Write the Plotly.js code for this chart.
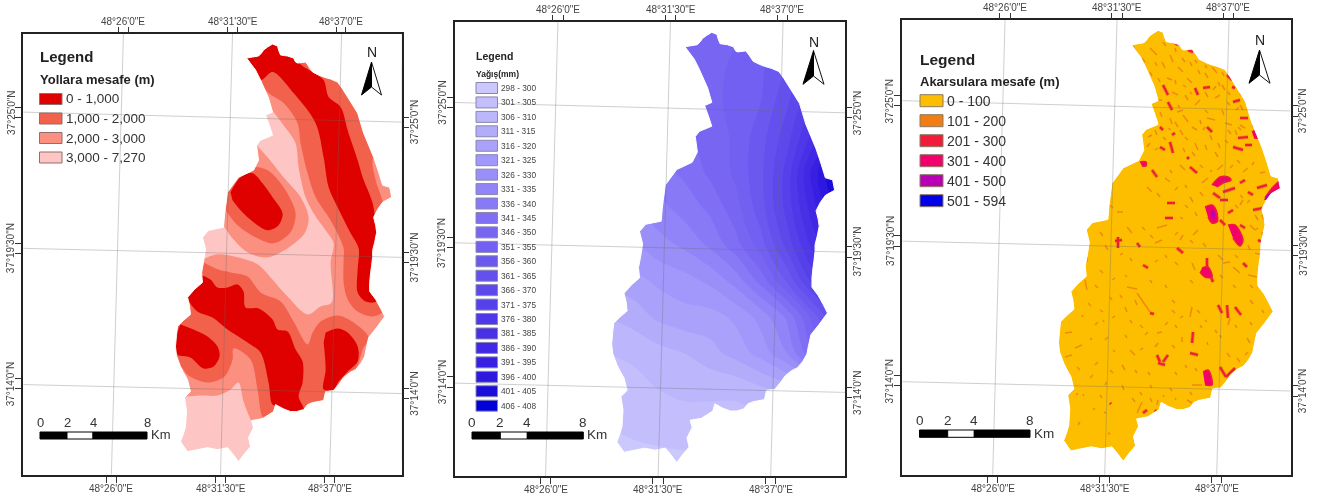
<!DOCTYPE html>
<html><head><meta charset="utf-8">
<script src="https://cdn.plot.ly/plotly-3.0.1.min.js"></script>
<style>html,body{margin:0;padding:0;background:#fff}#map{width:1341px;height:499px;filter:blur(0.4px)}</style>
</head><body><div id="map"></div>
<script>
// ---------- shared basin geometry, in map units ----------
const basinOutline=[[246,58],[252,57],[258,56],[261,53],[263,50],[267,47],[272,44],[277,46],[278,50],[280,55],[287,56],[293,58],[295,62],[297,63],[305,62],[308,66],[312,72],[318,75],[323,77],[330,79],[337,82],[342,89],[347,97],[352,105],[357,113],[360,123],[363,133],[368,145],[373,157],[376,166],[378,172],[382,185],[389,187],[391,197],[382,202],[377,209],[373,217],[375,225],[376,232],[374,242],[372,250],[372,256],[371,265],[370,272],[369,282],[369,291],[375,299],[380,308],[384,316],[376,327],[368,337],[366,346],[364,356],[360,363],[355,369],[349,372],[343,377],[338,384],[333,390],[325,391],[323,400],[312,402],[307,404],[303,409],[296,411],[290,411],[282,408],[275,404],[273,411],[262,418],[251,420],[253,427],[248,437],[250,446],[244,453],[238,461],[232,453],[227,447],[217,449],[207,447],[197,449],[187,451],[180,441],[183,433],[185,426],[186,410],[184,397],[190,391],[187,379],[183,372],[180,366],[176,355],[175,346],[176,335],[177,326],[183,320],[190,314],[189,305],[187,297],[194,289],[202,282],[201,272],[203,262],[205,249],[202,237],[208,230],[223,227],[224,215],[225,207],[227,192],[238,177],[253,170],[258,160],[256,145],[260,140],[272,135],[268,123],[265,115],[272,112],[268,98],[260,80],[255,70]];
const gratV=[[[123,34],[111,474]],[[232,34],[220,474]],[[341,34],[329,474]]];
const gratH=[[[23,112],[401,122]],[[23,248],[401,257]],[[23,384],[401,393]]];
const tickTop=[118,128,227,237,336,345];
const tickBottom=[106,116,215,225,324,334];
const tickLeft=[107,117,243,253,378,388];
const tickRight=[117,127,252,262,388,398];
const lonLabels=["48°26'0\"E","48°31'30\"E","48°37'0\"E"];
const lonTop=[123,232,340];
const lonBottom=[111,220,329];
const latLabels=["37°25'0\"N","37°19'30\"N","37°14'0\"N"];
const latLeft=[112,248,383];
const latRight=[122,257,393];
const scaleLabels=["0","2","4","8"];

// ---------- panel 1: distance to roads ----------
const roadClasses=["0 - 1,000","1,000 - 2,000","2,000 - 3,000","3,000 - 7,270"];
const roadColors=["#df0000","#f2614c","#fb8f80","#fdc6c4"];
const road2000=[
 [[240,70],[272,111],[283,125],[295,143],[298,167],[305,197],[313,213],[325,230],[333,243],[330,262],[331,302],[320,306],[307,314],[287,296],[270,277],[257,264],[237,257],[217,254],[200,259],[160,259],[160,396],[185,396],[200,395],[217,395],[230,389],[238,382],[243,401],[251,421],[267,449],[420,449],[420,40],[240,40]],
 [[256,145],[267,157],[283,177],[300,197],[308,217],[304,233],[287,248],[267,257],[247,252],[232,238],[220,222],[207,213],[217,167],[247,133]]
];
const road1000=[
 [[260,82],[268,93],[283,103],[297,123],[300,143],[307,173],[315,197],[330,220],[343,248],[343,259],[343,282],[347,299],[357,311],[372,316],[382,312],[395,300],[387,233],[382,201],[375,180],[373,157],[400,150],[400,67],[320,67],[310,71],[300,50],[267,50]],
 [[203,262],[217,269],[230,272],[247,276],[260,292],[280,301],[293,321],[307,344],[312,332],[320,321],[337,315],[353,322],[368,337],[362,349],[358,362],[355,369],[333,392],[327,416],[300,422],[275,412],[263,417],[257,389],[250,359],[233,348],[232,359],[224,376],[207,382],[188,375],[180,366],[160,362],[160,282],[202,274]],
 [[220,200],[233,180],[253,167],[267,170],[283,187],[295,213],[290,232],[273,243],[255,237],[237,225],[225,210]]
];
const road0=[
 [[240,57],[260,80],[272,72],[293,93],[315,123],[323,157],[328,187],[337,207],[350,233],[358,248],[357,269],[357,292],[365,301],[376,301],[385,282],[385,248],[377,233],[372,203],[362,177],[357,160],[347,130],[340,107],[328,97],[323,80],[312,72],[298,62],[293,33],[267,33],[240,40]],
 [[230,192],[240,177],[252,173],[262,183],[272,197],[282,213],[278,225],[267,230],[253,222],[240,210],[232,200]],
 [[202,275],[210,279],[217,287],[227,287],[237,284],[243,291],[245,307],[258,308],[272,319],[277,329],[287,331],[295,349],[302,361],[302,382],[298,396],[303,409],[290,412],[280,406],[272,404],[268,382],[260,352],[247,342],[227,329],[212,317],[197,311],[188,299],[189,289],[200,284]],
 [[180,324],[193,329],[207,336],[217,346],[219,356],[213,366],[203,368],[190,357],[177,354],[174,344],[177,331]],
 [[325,332],[337,328],[347,332],[357,346],[357,361],[347,371],[338,381],[333,389],[323,389],[325,369],[323,342]]
];

// ---------- panel 2: rainfall ----------
const rainClasses=["298 - 300","301 - 305","306 - 310","311 - 315","316 - 320","321 - 325","326 - 330","331 - 335","336 - 340","341 - 345","346 - 350","351 - 355","356 - 360","361 - 365","366 - 370","371 - 375","376 - 380","381 - 385","386 - 390","391 - 395","396 - 400","401 - 405","406 - 408"];
const rainColors=['#cbc8fd','#c4bffc','#bcb6fc','#b3acfb','#aaa1fb','#a297fa','#9a8ef9','#9084f8','#8879f7','#806ff5','#7866f3','#7160f1','#6a58ef','#6450ee','#5d48ec','#5640ea','#4f38e9','#4830e7','#4028e5','#3820e3','#2e18df','#1a0cdb','#0000d8'];
const rainX=[170,195,220,245,270,295,320,345,370,395];
const rainY=[40,75,110,145,180,215,250,285,320,355,390,425,465];
const rainZ=[
 [345,345,345,346,347,349,352,356,362,368],
 [345,345,346,347,348,351,354,360,368,378],
 [342,344,346,348,349,351,355,364,375,388],
 [338,340,342,344,347,351,358,368,382,396],
 [332,335,338,341,346,351,359,372,392,408],
 [326,329,333,337,341,348,358,372,388,402],
 [320,324,328,331,336,343,353,367,382,392],
 [316,318,321,323,326,332,342,356,372,384],
 [310,312,316,318,318,321,327,336,352,368],
 [305,306,308,310,313,317,322,330,345,358],
 [302,303,305,306,306,306,309,312,318,330],
 [300,301,302,303,303,303,303,304,308,312],
 [298,298,298,298,298,299,299,300,300,301]
];

// ---------- panel 3: distance to streams ----------
const streamClasses=["0 - 100","101 - 200","201 - 300","301 - 400","401 - 500","501 - 594"];
const streamColors=["#fdbe00","#f07e12","#f01c3c","#f2006c","#b800b4","#0000e8"];
// [x1,y1,x2,y2] read from the raster
const stream200=[[1150,48,1157,55],[1163,42,1166,46],[1162,62,1165,68],[1170,55,1173,62],[1178,67,1183,72],[1167,78,1172,80],[1172,92,1178,95],[1187,78,1192,83],[1205,73,1208,78],[1212,67,1217,73],[1215,98,1220,95],[1227,102,1230,105],[1195,105,1200,100],[1177,112,1183,110],[1205,110,1208,113],[1183,115,1188,122],[1207,118,1215,120],[1225,123,1232,125],[1235,130,1237,135],[1218,143,1220,148],[1195,143,1198,150],[1157,100,1162,100],[1148,137,1152,135],[1147,147,1150,143],[1205,92,1208,97],[1185,95,1188,100],[1240,105,1243,110],[1222,85,1225,90],[1192,127,1197,130],[1180,130,1183,135],[1240,125,1245,128],[1170,118,1172,124],[1150,118,1153,122],[1217,170,1223,165],[1202,183,1208,178],[1243,172,1248,168],[1260,173,1265,172],[1147,187,1152,192],[1157,193,1160,197],[1190,197,1193,202],[1180,217,1183,219],[1157,228,1167,225],[1180,240,1183,235],[1193,235,1198,230],[1127,227,1132,233],[1117,212,1123,212],[1142,227,1145,230],[1218,255,1223,260],[1223,263,1230,262],[1248,275,1257,277],[1255,253,1262,255],[1233,267,1240,273],[1192,263,1195,270],[1127,287,1137,289],[1155,243,1162,240],[1087,257,1087,262],[1085,280,1087,290],[1180,165,1185,170],[1165,178,1170,182],[1250,225,1255,230],[1255,215,1258,220],[1240,205,1243,200],[1105,245,1108,250],[1110,205,1113,208],[1100,232,1103,236],[1135,300,1137,305],[1125,307,1127,312],[1192,307,1190,317],[1172,310,1175,313],[1082,315,1083,317],[1065,333,1072,332],[1075,348,1082,345],[1065,357,1072,355],[1080,370,1077,367],[1103,320,1104,322],[1113,350,1115,352],[1122,365,1125,370],[1140,350,1143,348],[1130,350,1135,355],[1110,370,1113,373],[1157,333,1162,332],[1155,347,1158,343],[1182,337,1182,342],[1220,335,1221,338],[1247,338,1250,343],[1227,353,1230,357],[1237,358,1240,362],[1230,318,1228,325],[1172,300,1175,303],[1088,303,1091,306],[1095,325,1098,322],[1207,342,1208,345],[1197,310,1200,313],[1083,394,1084,396],[1080,422,1078,425],[1093,410,1095,408],[1108,433,1110,434],[1104,412,1106,413],[1132,398,1135,402],[1142,402,1137,413],[1158,400,1157,405],[1163,395,1164,397],[1187,400,1192,403],[1192,385,1202,385],[1175,398,1176,400],[1122,385,1124,390],[1100,395,1102,398],[1076,395,1078,393],
[1137,293,1150,312],[1142,58,1145,62],[1155,62,1157,66],[1150,72,1152,76],[1158,78,1160,82],[1175,48,1176,52],[1182,58,1185,62],[1190,62,1192,66],[1198,70,1200,74],[1195,60,1197,63],[1205,65,1207,68],[1222,72,1224,76],[1218,82,1220,86],[1175,80,1176,84],[1183,85,1186,87],[1190,92,1192,94],[1213,90,1216,86],[1228,92,1230,95],[1240,95,1242,92],[1236,110,1239,107],[1247,110,1249,106],
[1150,108,1153,112],[1160,112,1162,117],[1175,122,1178,127],[1155,130,1157,135],[1168,128,1171,130],[1185,137,1188,140],[1200,120,1201,124],[1210,135,1212,140],[1222,110,1224,115],[1228,130,1231,134],[1238,127,1241,130],[1252,125,1254,128],[1205,145,1207,150],[1215,152,1218,157],[1225,140,1228,143],[1183,148,1185,152],[1192,152,1195,156],[1203,130,1205,127],[1178,105,1180,108],[1163,137,1166,140],[1140,150,1142,153],[1155,150,1158,148],[1135,145,1137,142],
[1170,170,1172,173],[1200,165,1203,168],[1210,172,1212,170],[1230,168,1233,165],[1237,160,1240,163],[1252,165,1254,162],[1240,195,1243,198],[1247,203,1250,200],[1235,205,1238,208],[1262,215,1264,220],[1255,230,1258,228],[1248,245,1250,250],[1262,232,1263,238],[1260,260,1262,265],[1235,255,1238,258],[1200,192,1203,196],[1185,185,1187,188],[1175,190,1178,187],[1195,212,1197,216],[1185,205,1188,208],[1175,235,1178,232],[1190,240,1193,243],[1203,243,1206,247],[1150,235,1153,238],[1120,255,1123,253],[1130,258,1132,261],[1155,262,1158,260],[1165,255,1167,258],[1175,262,1178,265],[1190,280,1193,283],[1220,275,1223,278],[1233,285,1236,288],[1250,285,1253,288],[1100,270,1103,273],[1112,280,1115,278],[1125,275,1127,277],[1150,280,1152,283],[1165,285,1167,288],[1095,285,1098,288],
[1110,297,1112,300],[1120,295,1122,298],[1100,310,1103,312],[1112,318,1115,316],[1130,320,1132,323],[1140,325,1143,328],[1165,325,1168,322],[1180,318,1183,316],[1205,320,1207,322],[1215,330,1217,333],[1235,325,1237,328],[1250,300,1253,304],[1262,310,1264,313],[1260,330,1263,333],[1245,355,1248,352],[1250,322,1252,325],[1090,340,1092,338],[1105,340,1108,337],[1125,335,1127,338],[1145,335,1148,332],[1175,325,1177,328],[1200,325,1202,328],[1172,345,1175,348],[1185,365,1187,368],[1095,365,1098,362],[1090,378,1093,375],[1105,385,1107,382],[1135,370,1137,373],[1148,372,1150,375],[1175,372,1177,375],[1195,368,1197,371],[1150,385,1152,388],
[1190,392,1192,395],[1170,388,1172,391],[1140,392,1142,395],[1150,398,1152,402]];
const stream300=[[1132,47,1140,60],[1175,43,1178,45],[1188,50,1193,52],[1163,85,1168,95],[1195,88,1198,95],[1203,88,1210,87],[1227,75,1232,80],[1232,87,1235,88],[1233,102,1240,100],[1240,118,1248,118],[1238,138,1248,137],[1233,147,1243,150],[1245,145,1252,145],[1168,102,1172,110],[1160,127,1163,130],[1172,135,1175,133],[1170,142,1173,153],[1160,147,1165,150],[1207,127,1212,132],[1187,157,1189,159],[1213,193,1220,198],[1223,192,1235,188],[1220,200,1228,200],[1248,192,1253,195],[1257,188,1267,185],[1253,210,1263,208],[1240,183,1245,180],[1228,213,1233,210],[1240,225,1245,228],[1220,220,1225,225],[1152,170,1157,177],[1190,167,1197,173],[1167,203,1175,203],[1165,218,1173,218],[1115,241,1122,240],[1118,237,1118,248],[1137,243,1140,247],[1177,248,1183,253],[1143,265,1148,268],[1258,240,1262,242],[1243,263,1247,267],[1207,258,1207,267],[1210,275,1213,282],[1227,305,1228,318],[1218,305,1222,313],[1235,307,1241,315],[1150,313,1154,314],[1158,363,1165,365],[1168,355,1163,362],[1157,355,1160,362],[1193,332,1192,343],[1190,353,1198,355],[1220,367,1226,377],[1226,377,1235,368],[1110,403,1111,404],[1147,410,1143,413],[1155,410,1156,411]];
const stream400=[
 [[1212,185],[1220,177],[1228,177],[1231,180],[1223,183],[1217,187]],
 [[1205,207],[1212,205],[1217,213],[1217,222],[1212,223],[1208,217]],
 [[1228,225],[1235,225],[1243,240],[1240,246],[1233,238]],
 [[1202,268],[1208,267],[1212,277],[1205,277],[1200,272]],
 [[1203,372],[1208,370],[1212,380],[1212,385],[1205,385]],
 [[1265,198],[1272,188],[1282,180],[1282,186],[1272,195]],
 [[1252,132],[1256,130],[1258,138],[1254,138]],
 [[1140,162],[1146,162],[1146,166],[1142,166]]
];
const stream500=[[[1211,211],[1214,211],[1215,218],[1212,218]],[[1264,200],[1268,194],[1270,195],[1267,200]]];

// ---------- layout helpers ----------
const W=1341,H=499;
const FONT='"Liberation Sans", Arial, sans-serif';
const fx=x=>x/W, fy=y=>1-y/H;
const MAPX=[23,401], MAPY=[474,34];
const frames=[{l:23.3,r:401.7,t:34,b:474.7},{l:454.7,r:845,t:22,b:476},{l:902.3,r:1290.7,t:20,b:474.7}];
const traces=[], shapes=[], annotations=[], layout={};
const poly=(pts,color,xa,ya,shape,edge)=>traces.push({type:'scatter',mode:'lines',x:pts.map(p=>p[0]),y:pts.map(p=>p[1]),xaxis:xa,yaxis:ya,fill:'toself',fillcolor:color,line:{width:edge?1.5:0,color:edge||color,simplify:false,shape:shape||'linear',smoothing:0.9},hoverinfo:'skip',showlegend:false});
const ax=(n)=>{
  const f=frames[n];
  const b=2*n+1,c=2*n+2;
  const common={showgrid:false,zeroline:false,showticklabels:false,fixedrange:true,ticks:'outside',ticklen:6,tickwidth:1,tickcolor:'#333',tickmode:'array'};
  const key=(p,i)=>p+'axis'+(i===1?'':i), id=(p,i)=>p+(i===1?'':i);
  layout[key('x',b)]={...common,range:MAPX,domain:[fx(f.l),fx(f.r)],anchor:id('y',b),side:'bottom',tickvals:tickBottom,showline:true,linewidth:2,linecolor:'#222',mirror:true};
  layout[key('y',b)]={...common,range:MAPY,domain:[fy(f.b),fy(f.t)],anchor:id('x',b),side:'left',tickvals:tickLeft,showline:true,linewidth:2,linecolor:'#222',mirror:true};
  layout[key('x',c)]={...common,range:MAPX,overlaying:id('x',b),anchor:id('y',b),side:'top',tickvals:tickTop};
  layout[key('y',c)]={...common,range:MAPY,overlaying:id('y',b),anchor:id('x',b),side:'right',tickvals:tickRight};
  traces.push({type:'scatter',mode:'lines',x:[null],y:[null],xaxis:id('x',c),yaxis:id('y',c),hoverinfo:'skip',showlegend:false});
  return [id('x',b),id('y',b),id('x',c),id('y',c)];
};
const txt=(x,y,text,size,opt={})=>annotations.push({xref:'paper',yref:'paper',x:fx(x),y:fy(y),text:text,showarrow:false,xanchor:opt.anchor||'left',yanchor:'middle',borderpad:0,borderwidth:0,font:{family:FONT,size:size,color:opt.color||'#333'},textangle:opt.angle||0});
const swatch=(x,y,w,h,color,border)=>shapes.push({type:'rect',xref:'paper',yref:'paper',x0:fx(x),x1:fx(x+w),y0:fy(y+h/2),y1:fy(y-h/2),fillcolor:color,line:{color:border,width:1},layer:'above'});
const graticuleAndMask=(xa,ya)=>{
  const [x0,x1]=MAPX,[y1,y0]=MAPY,s=basinOutline[0];
  const pts=[[s[0],y0],[x0,y0],[x0,y1],[x1,y1],[x1,y0],[s[0],y0],...basinOutline,s,[s[0],y0]];
  traces.push({type:'scatter',mode:'lines',x:pts.map(p=>p[0]),y:pts.map(p=>p[1]),xaxis:xa,yaxis:ya,fill:'toself',fillcolor:'#ffffff',line:{width:1,color:'#ffffff',simplify:false},hoverinfo:'skip',showlegend:false});
  [...gratV,...gratH].forEach(l=>traces.push({type:'scatter',mode:'lines',x:l.map(p=>p[0]),y:l.map(p=>p[1]),xaxis:xa,yaxis:ya,line:{width:1,color:'rgba(105,105,105,0.32)'},hoverinfo:'skip',showlegend:false}));
};
const labels=(n,xa,ya)=>{
  const f=frames[n];
  lonLabels.forEach((t,i)=>{
    [[lonTop[i],f.t-13],[lonBottom[i],f.b+13.5]].forEach(([m,py])=>annotations.push({xref:xa,yref:'paper',x:m,y:fy(py),text:t,showarrow:false,xanchor:'center',yanchor:'middle',font:{family:FONT,size:10,color:'#444'}}));
  });
  latLabels.forEach((t,i)=>{
    [[latLeft[i],f.l-12.5],[latRight[i],f.r+12.5]].forEach(([m,px])=>annotations.push({xref:'paper',yref:ya,x:fx(px),y:m,text:t,showarrow:false,xanchor:'center',yanchor:'middle',textangle:-90,font:{family:FONT,size:10,color:'#444'}}));
  });
};
const north=(cx,apexY,wingY,midY,halfW,nY)=>{
  const P=(x,y)=>fx(x)+' '+fy(y);
  shapes.push({type:'path',xref:'paper',yref:'paper',path:`M ${P(cx,apexY)} L ${P(cx+halfW,wingY)} L ${P(cx,midY)} Z`,fillcolor:'#ffffff',line:{color:'#111',width:1},layer:'above'});
  shapes.push({type:'path',xref:'paper',yref:'paper',path:`M ${P(cx,apexY)} L ${P(cx-halfW,wingY)} L ${P(cx,midY)} Z`,fillcolor:'#000000',line:{color:'#000',width:1},layer:'above'});
  txt(cx,nY,'N',14,{anchor:'center',color:'#222'});
};
const scalebar=(x0,x2,x4,x8,top,bottom,labelY,kmX,kmY,size)=>{
  const rect=(a,b,c)=>shapes.push({type:'rect',xref:'paper',yref:'paper',x0:fx(a),x1:fx(b),y0:fy(bottom),y1:fy(top),fillcolor:c,line:{color:'#000',width:1},layer:'above'});
  rect(x0,x2,'#000');rect(x2,x4,'#fff');rect(x4,x8,'#000');
  [x0,x2,x4,x8].forEach((x,i)=>txt(x,labelY,scaleLabels[i],size,{anchor:'center'}));
  txt(kmX,kmY,'Km',size);
};
const mx=v=>23+(v-902.3)/1.0275, my=v=>34+(v-20)/1.0334;
const seg=(list,color,width,xa,ya)=>{
  const x=[],y=[];
  list.forEach(s=>{x.push(mx(s[0]),mx(s[2]),null);y.push(my(s[1]),my(s[3]),null);});
  traces.push({type:'scatter',mode:'lines',x:x,y:y,xaxis:xa,yaxis:ya,line:{width:width,color:color,simplify:false},hoverinfo:'skip',showlegend:false});
};
const rasterPoly=(pts,color,xa,ya,edge)=>poly(pts.map(p=>[mx(p[0]),my(p[1])]),color,xa,ya,'spline',edge);

// ---------- panel 1 ----------
{
  const [xa,ya]=ax(0);
  poly(basinOutline,roadColors[3],xa,ya);
  road2000.forEach(p=>poly(p,roadColors[2],xa,ya,'spline'));
  road1000.forEach(p=>poly(p,roadColors[1],xa,ya,'spline'));
  road0.forEach(p=>poly(p,roadColors[0],xa,ya,'spline'));
  graticuleAndMask(xa,ya);
  labels(0,xa,ya);
  txt(39.5,56,'<b>Legend</b>',15,{color:'#222'});
  txt(39.5,80,'<b>Yollara mesafe (m)</b>',13,{color:'#222'});
  [99,118.5,138,157.5].forEach((y,i)=>{swatch(39.5,y,22.5,11,roadColors[i],'#8f6f6f');txt(66,y,roadClasses[i],13.5);});
  north(371.5,62,95,87,10,52.5);
  scalebar(40,67,93,147,432,439,422,151,434,13);
}
// ---------- panel 2 ----------
{
  const [xa,ya]=ax(1);
  traces.push({type:'contour',x:rainX,y:rainY,z:rainZ,xaxis:xa,yaxis:ya,autocontour:false,contours:{start:300,end:405,size:5,coloring:'fill',showlines:false},line:{width:0,smoothing:1},zmin:297.5,zmax:407.5,zauto:false,colorscale:rainColors.map((c,i)=>[i/22,c]),showscale:false,hoverinfo:'skip'});
  graticuleAndMask(xa,ya);
  labels(1,xa,ya);
  txt(476,55.5,'<b>Legend</b>',10.5,{color:'#222'});
  txt(476,74,'<b>Yağış(mm)</b>',8.5,{color:'#222'});
  rainClasses.forEach((t,i)=>{const y=88+i*14.44;swatch(476,y,21.5,11,rainColors[i],'#8a86ae');txt(501,y,t,8.3,{color:'#444'});});
  north(813.5,50.7,84.3,76,10.5,41.5);
  scalebar(472,500.3,527.3,583.3,432,439,422,587,434,13.5);
}
// ---------- panel 3 ----------
{
  const [xa,ya]=ax(2);
  poly(basinOutline,streamColors[0],xa,ya);
  seg(stream200,'#ee8a10',1.5,xa,ya);
  seg(stream300,'#ee7a18',3.6,xa,ya);
  seg(stream300,streamColors[2],2,xa,ya);
  stream400.forEach(p=>rasterPoly(p,streamColors[3],xa,ya,streamColors[2]));
  stream500.forEach(p=>rasterPoly(p,streamColors[4],xa,ya));
  graticuleAndMask(xa,ya);
  labels(2,xa,ya);
  txt(920,59,'<b>Legend</b>',15.5,{color:'#222'});
  txt(920,82,'<b>Akarsulara mesafe (m)</b>',13,{color:'#222'});
  [100.7,120.7,140.7,160.7,180.7,200.7].forEach((y,i)=>{swatch(920,y,23,12,streamColors[i],'#8a7a60');txt(947,y,streamClasses[i],14);});
  north(1259.5,50,83.3,75,10.5,40);
  scalebar(919.5,947.7,974.3,1030,430,437.3,420,1034,433,13.5);
}
Object.assign(layout,{width:W,height:H,margin:{l:0,r:0,t:0,b:0},paper_bgcolor:'#fff',plot_bgcolor:'#fff',showlegend:false,shapes:shapes,annotations:annotations,font:{family:FONT}});
Plotly.newPlot('map',traces,layout,{displayModeBar:false,staticPlot:true});
</script></body></html>
